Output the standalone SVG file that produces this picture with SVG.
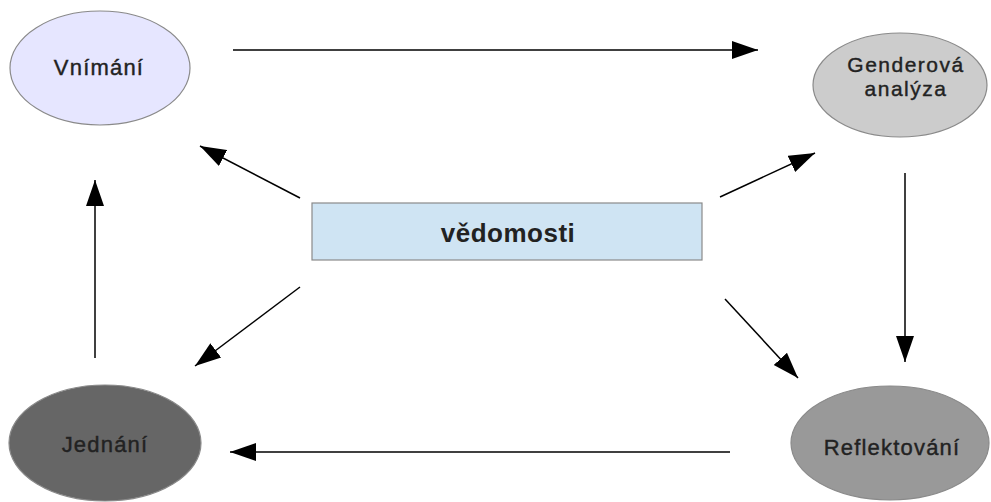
<svg xmlns="http://www.w3.org/2000/svg" width="991" height="502" viewBox="0 0 991 502">
<defs>
<style>
.n{stroke:#8a8a8a;stroke-width:1.2}
.t{font-family:"Liberation Sans",Arial,sans-serif;font-size:22px;letter-spacing:1.2px;fill:#222;stroke:#222;stroke-width:0.4;text-anchor:middle}
.s{font-size:21px;letter-spacing:1.5px}
.c line{stroke:#000;stroke-width:1.5;marker-end:url(#ah)}
</style>
<marker id="ah" markerUnits="userSpaceOnUse" markerWidth="28" markerHeight="20" viewBox="0 0 28 20" refX="26" refY="10" orient="auto">
<path d="M0,1 L26,10 L0,19 Z" fill="#000"/>
</marker>
</defs>
<rect width="991" height="502" fill="#fff"/>
<g id="vnimani"><ellipse class="n" cx="100" cy="68" rx="90" ry="57" fill="#e6e6ff"/><text class="t" x="99" y="75">Vnímání</text></g>
<g id="genderova"><ellipse class="n" cx="900" cy="85" rx="87" ry="52" fill="#cccccc"/><text class="t s" x="906" y="72">Genderová</text><text class="t s" x="906" y="96">analýza</text></g>
<g id="jednani"><ellipse class="n" cx="105" cy="443" rx="96" ry="58" fill="#666666"/><text class="t" x="105" y="452">Jednání</text></g>
<g id="reflektovani"><ellipse class="n" cx="890" cy="443" rx="99" ry="57" fill="#999999"/><text class="t" x="892" y="455">Reflektování</text></g>
<g id="vedomosti"><rect x="312" y="203" width="390" height="57" fill="#cfe4f3" stroke="#8a8a8a" stroke-width="1.2"/><text class="t" x="508" y="242" style="font-size:26px;font-weight:bold;letter-spacing:0.5px;stroke-width:0">vědomosti</text></g>
<g class="c" id="connectors">
<line x1="233" y1="50" x2="758" y2="50"/>
<line x1="300" y1="198" x2="200" y2="146"/>
<line x1="720" y1="197" x2="815" y2="153"/>
<line x1="905" y1="173" x2="905" y2="362"/>
<line x1="730" y1="452" x2="230" y2="452"/>
<line x1="95" y1="358" x2="95" y2="180"/>
<line x1="300" y1="287" x2="195" y2="366"/>
<line x1="725" y1="299" x2="798" y2="378"/>
</g>
</svg>
